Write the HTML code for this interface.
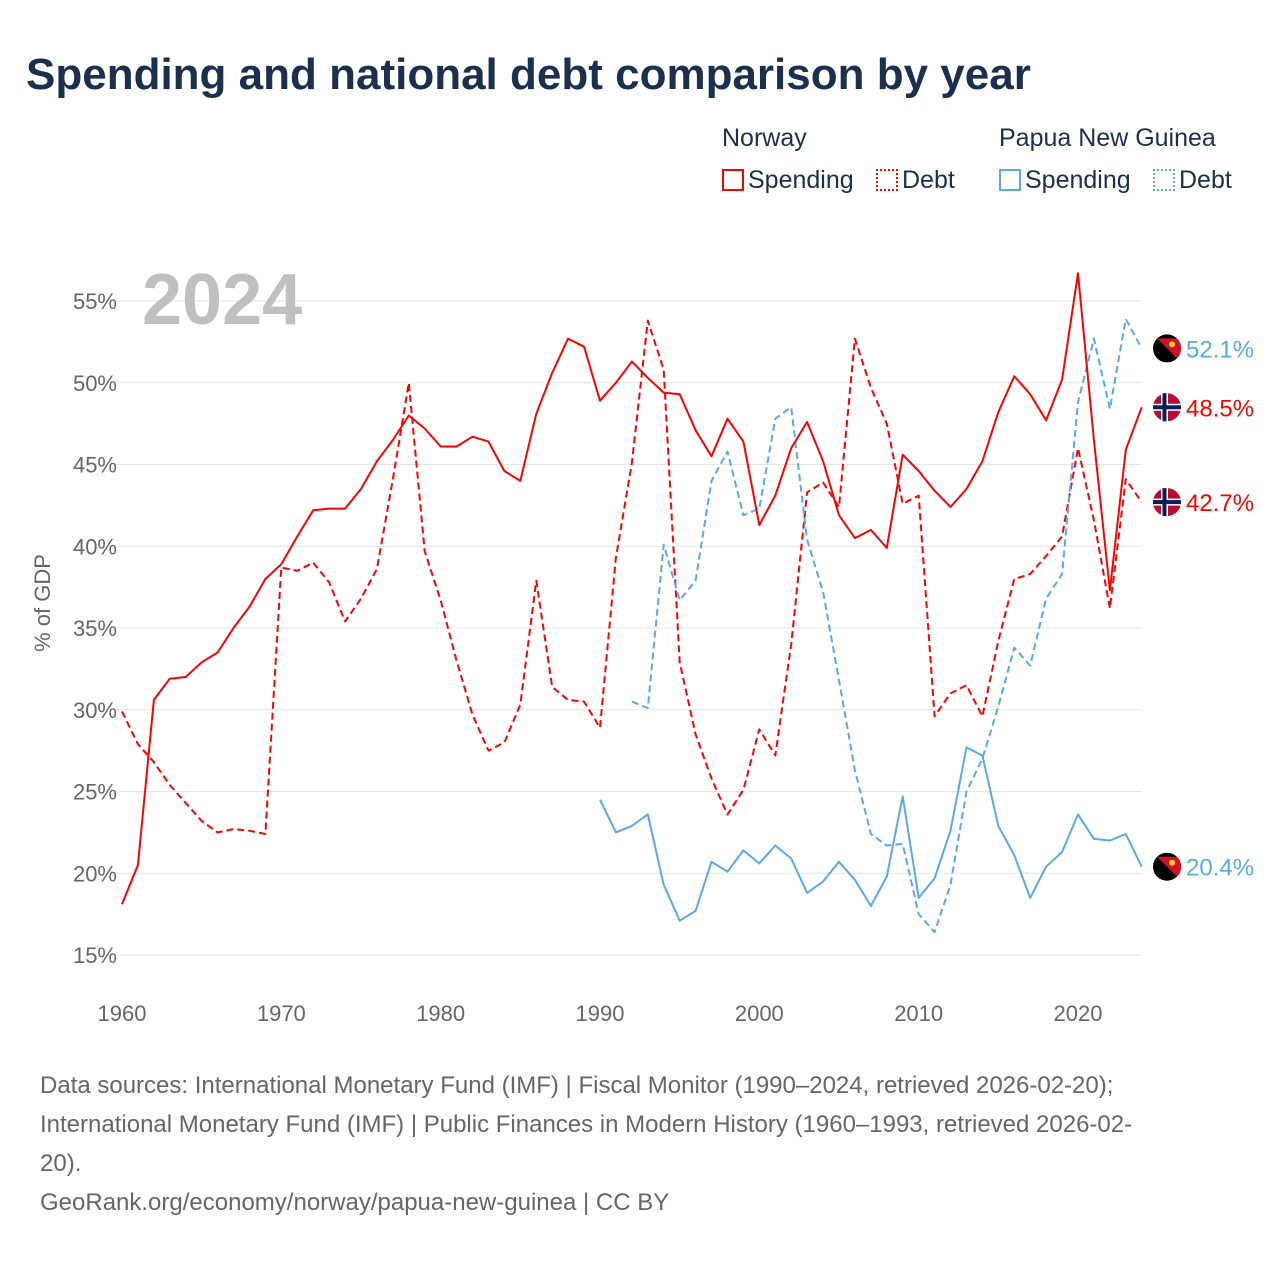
<!DOCTYPE html>
<html><head><meta charset="utf-8"><style>
body{margin:0;width:1280px;height:1280px;background:#fff;font-family:"Liberation Sans",sans-serif;overflow:hidden}
#title{position:absolute;left:26px;top:50px;font-size:44px;font-weight:bold;color:#1b2f4e;letter-spacing:0px}
.lg{position:absolute;font-size:25px;color:#1b2f4e}
.sw{display:inline-block;width:22px;height:22px;box-sizing:border-box;vertical-align:-3px;margin-right:4px}
#src{position:absolute;left:40px;top:1066px;font-size:24px;line-height:39px;color:#666;width:1240px;white-space:nowrap}
</style></head><body>
<div id="title">Spending and national debt comparison by year</div>
<div class="lg" style="left:722px;top:124px">Norway</div>
<div class="lg" style="left:999px;top:124px">Papua New Guinea</div>
<div class="lg" style="left:722px;top:166px"><span class="sw" style="border:2px solid #f00"></span>Spending</div>
<div class="lg" style="left:876px;top:166px"><span class="sw" style="border:2px dotted #f00"></span>Debt</div>
<div class="lg" style="left:999px;top:166px"><span class="sw" style="border:2px solid #5aa8ef"></span>Spending</div>
<div class="lg" style="left:1153px;top:166px"><span class="sw" style="border:2px dotted #5aa8ef"></span>Debt</div>
<svg id="chart" width="1280" height="1280" style="position:absolute;left:0;top:0"></svg>
<div id="src">Data sources: International Monetary Fund (IMF) | Fiscal Monitor (1990–2024, retrieved 2026-02-20);<br>International Monetary Fund (IMF) | Public Finances in Modern History (1960–1993, retrieved 2026-02-<br>20).<br>GeoRank.org/economy/norway/papua-new-guinea | CC BY</div>
<script>
const yTicks=[15,20,25,30,35,40,45,50,55];
const xTicks=[1960,1970,1980,1990,2000,2010,2020];
const norSpendStart=1960;
const norSpend=[18.1,20.5,30.6,31.9,32.0,32.9,33.5,35.0,36.3,38.0,38.9,40.6,42.2,42.3,42.3,43.5,45.2,46.5,48.0,47.2,46.1,46.1,46.7,46.4,44.6,44.0,48.1,50.6,52.7,52.2,48.9,50.0,51.3,50.3,49.4,49.3,47.1,45.5,47.8,46.4,41.3,43.1,46.0,47.6,45.2,41.9,40.5,41.0,39.9,45.6,44.6,43.4,42.4,43.5,45.2,48.2,50.4,49.3,47.7,50.2,56.7,46.5,37.3,45.9,48.5];
const norDebtStart=1960;
const norDebt=[29.9,27.9,26.8,25.4,24.3,23.2,22.5,22.7,22.6,22.4,38.7,38.5,39.0,37.8,35.4,36.8,38.6,44.1,50.0,39.7,36.7,33.0,29.7,27.5,28.0,30.3,37.9,31.4,30.6,30.5,28.9,39.3,45.1,53.8,50.8,32.9,28.5,25.8,23.6,25.1,28.8,27.2,34.0,43.3,43.9,42.4,52.7,49.7,47.5,42.6,43.1,29.6,31.0,31.5,29.6,34.2,38.0,38.3,39.4,40.6,46.0,41.6,36.2,44.1,42.7];
const pngSpendStart=1990;
const pngSpend=[24.5,22.5,22.9,23.6,19.3,17.1,17.7,20.7,20.1,21.4,20.6,21.7,20.9,18.8,19.5,20.7,19.6,18.0,19.8,24.7,18.5,19.7,22.6,27.7,27.2,22.9,21.1,18.5,20.4,21.3,23.6,22.1,22.0,22.4,20.4];
const pngDebtStart=1992;
const pngDebt=[30.5,30.1,40.1,36.7,37.9,44.0,45.8,41.9,42.3,47.8,48.5,40.4,37.2,31.8,26.3,22.4,21.7,21.8,17.5,16.4,19.3,25.0,27.0,30.2,33.8,32.7,36.8,38.3,48.8,52.7,48.4,53.9,52.1];

const X=y=>122+(y-1960)*(1078-122)/60;
const Y=v=>955-(v-15)*(955-301)/40;
const svg=document.getElementById('chart');
const NS='http://www.w3.org/2000/svg';
function mk(tag,attrs,txt){const e=document.createElementNS(NS,tag);for(const k in attrs)e.setAttribute(k,attrs[k]);if(txt!==undefined)e.textContent=txt;svg.appendChild(e);return e;}
yTicks.forEach(t=>{
 const g=mk('line',{x1:115,x2:1142,y1:Y(t),y2:Y(t),stroke:'#e6e6e6','stroke-width':1});
 
 
 const l=mk('text',{x:117,y:Y(t)+8,'text-anchor':'end','font-size':22,fill:'#666','font-family':'Liberation Sans'},t+'%');
 
 
});
xTicks.forEach(t=>{
 const l=mk('text',{x:X(t),y:1021,'text-anchor':'middle','font-size':22,fill:'#666','font-family':'Liberation Sans'},t);
 
 
});
const yt=mk('text',{x:50,y:603,transform:'rotate(-90 50 603)','text-anchor':'middle','font-size':22,fill:'#666','font-family':'Liberation Sans'},'% of GDP');


const yr=mk('text',{x:142,y:324,'font-size':72,'font-weight':'bold',fill:'#c0c0c0','font-family':'Liberation Sans'},'2024');


function line(arr,start,color,dash,name){
 const d=arr.map((v,i)=>(i?'L':'M')+X(start+i).toFixed(1)+' '+Y(v).toFixed(1)).join(' ');
 const p=mk('path',{d:d,fill:'none',stroke:color,'stroke-width':2,'stroke-dasharray':dash?'7 4':'none','stroke-linejoin':'round'});
 
 
}
line(norDebt,norDebtStart,'#f00',true,'norway-debt-line');
line(pngDebt,pngDebtStart,'#5aa8ef',true,'png-debt-line');
line(norSpend,norSpendStart,'#f00',false,'norway-spending-line');
line(pngSpend,pngSpendStart,'#5aa8ef',false,'png-spending-line');
function endLabel(arr,color,flag,name){
 const v=arr[arr.length-1],cy=Y(v);
 const c=mk('circle',{cx:1167,cy:cy,r:14,fill:flag==='no'?'#ba0c2f':'#000'});
 
 
 if(flag==='no'){
  mk('rect',{x:1153,y:cy-3.5,width:28,height:7,fill:'#fff'});mk('rect',{x:1161,y:cy-14,width:7,height:28,fill:'#fff'});
  mk('rect',{x:1153,y:cy-2,width:28,height:4,fill:'#00205b'});mk('rect',{x:1162.5,y:cy-14,width:4,height:28,fill:'#00205b'});
 } else {
  mk('path',{d:`M${1167+10} ${cy-10} A14 14 0 0 1 ${1167+10} ${cy+10} L${1167-10} ${cy-10} Z`,fill:'#ce1126'});
  mk('circle',{cx:1172,cy:cy-4,r:3,fill:'#fcd116'});
 }
 const t=mk('text',{x:1186,y:cy+9,'font-size':24,fill:color,'font-family':'Liberation Sans'},v.toFixed(1)+'%');
 
 
}
endLabel(pngDebt,'#5aa8ef','png','png-debt-end');
endLabel(norSpend,'#f00','no','norway-spending-end');
endLabel(norDebt,'#f00','no','norway-debt-end');
endLabel(pngSpend,'#5aa8ef','png','png-spending-end');
</script>
</body></html>
